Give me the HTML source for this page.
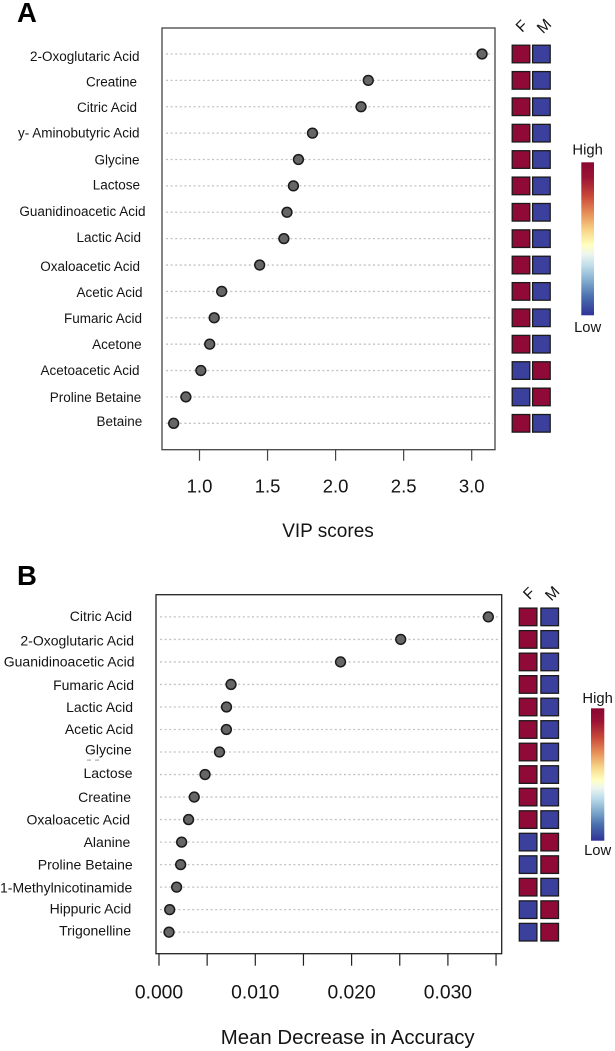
<!DOCTYPE html>
<html>
<head>
<meta charset="utf-8">
<title>VIP scores and Mean Decrease in Accuracy</title>
<style>
html,body{margin:0;padding:0;background:#fff;}
#fig{display:block;width:615px;height:1051px;}
text{font-family:"Liberation Sans",sans-serif;fill:#141414;}
text.panel-letter{fill:#000;}
</style>
</head>
<body>
<svg id="fig" xmlns="http://www.w3.org/2000/svg" width="615" height="1051" viewBox="0 0 615 1051">
<defs>
<linearGradient id="rdylbu" x1="0" y1="0" x2="0" y2="1">
<stop offset="0" stop-color="#8a0733"/>
<stop offset="0.1" stop-color="#9c1434"/>
<stop offset="0.22" stop-color="#c8483a"/>
<stop offset="0.34" stop-color="#e8935a"/>
<stop offset="0.45" stop-color="#f8d88a"/>
<stop offset="0.54" stop-color="#ffffc0"/>
<stop offset="0.6" stop-color="#eef6ee"/>
<stop offset="0.68" stop-color="#bcdcea"/>
<stop offset="0.78" stop-color="#7fa9cc"/>
<stop offset="0.88" stop-color="#4a6fae"/>
<stop offset="1" stop-color="#2f3296"/>
</linearGradient>
</defs>
<rect x="87" y="759.6" width="4" height="1" fill="#999"/>
<rect x="95" y="759.6" width="4" height="1" fill="#999"/>
</svg>
<script>
// Panel A data
const categoriesA = ["2-Oxoglutaric Acid","Creatine","Citric Acid","y- Aminobutyric Acid","Glycine","Lactose","Guanidinoacetic Acid","Lactic Acid","Oxaloacetic Acid","Acetic Acid","Fumaric Acid","Acetone","Acetoacetic Acid","Proline Betaine","Betaine"];
const vipScores = [3.076,2.24,2.187,1.83,1.727,1.69,1.643,1.62,1.442,1.163,1.108,1.075,1.01,0.9,0.81];
const femaleLevelA = [1,1,1,1,1,1,1,1,1,1,1,1,-1,-1,1];
const maleLevelA = [-1,-1,-1,-1,-1,-1,-1,-1,-1,-1,-1,-1,1,1,-1];
const ticksA = [1.0,1.5,2.0,2.5,3.0];
const tickLabelsA = ["1.0","1.5","2.0","2.5","3.0"];

// Panel B data
const categoriesB = ["Citric Acid","2-Oxoglutaric Acid","Guanidinoacetic Acid","Fumaric Acid","Lactic Acid","Acetic Acid","Glycine","Lactose","Creatine","Oxaloacetic Acid","Alanine","Proline Betaine","1-Methylnicotinamide","Hippuric Acid","Trigonelline"];
const meanDecrease = [0.0342,0.0251,0.01885,0.00748,0.00701,0.007,0.00628,0.00478,0.00366,0.00307,0.00235,0.00225,0.00183,0.00111,0.00104];
const femaleLevelB = [1,1,1,1,1,1,1,1,1,1,-1,-1,1,-1,-1];
const maleLevelB = [-1,-1,-1,-1,-1,-1,-1,-1,-1,-1,1,1,-1,1,1];
const ticksB = [0,0.005,0.01,0.015,0.02,0.025,0.03,0.035];
const tickLabelsB = ["0.000","","0.010","","0.020","","0.030",""];

const sexLabels = ["F","M"];

// Hand-placement offsets of the row labels, which wander in the source figure
const nudgeRightA = [-0.5,-3,-3,-0.5,-0.5,0,5.5,1,0,2.5,2,1.7,-0.5,1.3,2.3];
const nudgeBaseA = [7,6,5,4.6,4.8,3.8,3.7,3.3,6,5.8,5.2,4.8,4.4,5.3,2.7];
const nudgeRightB = [-1,1,1.5,1,0,0.3,-1.3,-0.5,-2,-3,-2.7,-0.3,-0.7,-1.7,-2];
const nudgeBaseB = [4,6,4.7,5.5,5,4.7,2.6,3.5,4.8,4.7,4.7,4.8,5.5,4,3.3];

const NS = "http://www.w3.org/2000/svg";
const svg = document.getElementById("fig");

function make(tag, attrs, parent, txt) {
  const el = document.createElementNS(NS, tag);
  for (const k in attrs) el.setAttribute(k, attrs[k]);
  if (txt !== undefined) el.textContent = txt;
  parent.appendChild(el);
  return el;
}

function levelColor(v) {
  return v > 0 ? "#8f0a36" : "#3a409c";
}

function drawPanel(p) {
  const g = make("g", {}, svg);
  
  

  const xScale = v => p.x0 + (v - p.v0) * p.pxPerUnit;
  const yScale = i => p.rowTop + i * p.rowStep;

  const letter = make("text", {class: "panel-letter", x: 17, y: p.letterY, "font-size": 27.5, "font-weight": "bold"}, g, p.letter);
  
  

  p.categories.forEach((name, i) => {
    const y = yScale(i);

    const line = make("line", {x1: p.left + 4, x2: p.right - 2, y1: y, y2: y, stroke: "#c2c2c2", "stroke-width": 1.3, "stroke-dasharray": "2 2.6"}, g);
    
    

    const label = make("text", {x: p.labelRight + p.nudgeRight[i], y: y + p.nudgeBase[i], "font-size": p.labelSize, "text-anchor": "end"}, g, name);
    
    

    const dot = make("circle", {cx: xScale(p.values[i]), cy: y, r: 4.9, fill: "#666666", stroke: "#1a1a1a", "stroke-width": 1.5}, g);
    
    

    const cellF = make("rect", {x: p.cellX[0], y: y - 8.8, width: 17.6, height: 17.6, fill: levelColor(p.female[i]), stroke: "#1a1a1a", "stroke-width": 1.3}, g);
    
    

    const cellM = make("rect", {x: p.cellX[1], y: y - 8.8, width: 17.6, height: 17.6, fill: levelColor(p.male[i]), stroke: "#1a1a1a", "stroke-width": 1.3}, g);
    
    
  });

  const frame = make("rect", {x: p.left, y: p.top, width: p.right - p.left, height: p.bottom - p.top, fill: "none", stroke: p.frameColor, "stroke-width": 1.3}, g);
  
  

  p.ticks.forEach((t, i) => {
    const x = xScale(t);
    const tick = make("line", {x1: x, x2: x, y1: p.bottom, y2: p.bottom + p.tickLen, stroke: p.frameColor, "stroke-width": 1.2}, g);
    
    
    if (p.tickLabels[i]) {
      const tl = make("text", {x: x, y: p.tickBase, "font-size": p.tickSize, "text-anchor": "middle"}, g, p.tickLabels[i]);
      
      
    }
  });

  const title = make("text", {x: p.titleX, y: p.titleBase, "font-size": p.titleSize, "text-anchor": "middle"}, g, p.title);
  
  

  sexLabels.forEach((s, i) => {
    const cx = p.sexX[i], cy = p.sexY;
    const t = make("text", {x: cx, y: cy, "font-size": 15.5, "text-anchor": "middle", transform: "rotate(-45 " + cx + " " + cy + ")"}, g, s);
    
    
  });

  const bar = make("rect", {x: p.barX, y: p.barTop, width: p.barW, height: p.barH, fill: "url(#rdylbu)"}, g);
  
  

  const high = make("text", {x: p.barX + p.barW / 2, y: p.highBase, "font-size": 14.8, "text-anchor": "middle"}, g, "High");
  
  

  const low = make("text", {x: p.barX + p.barW / 2, y: p.lowBase, "font-size": 14.8, "text-anchor": "middle"}, g, "Low");
  
  
}

drawPanel({
  id: "vip", letter: "A", letterY: 22, frameColor: "#444444",
  categories: categoriesA, values: vipScores, female: femaleLevelA, male: maleLevelA,
  ticks: ticksA, tickLabels: tickLabelsA,
  left: 162, right: 495, top: 28, bottom: 449.7,
  x0: 199.5, v0: 1, pxPerUnit: 136.1,
  rowTop: 54, rowStep: 26.38,
  labelRight: 140, labelSize: 13.5, nudgeRight: nudgeRightA, nudgeBase: nudgeBaseA,
  cellX: [512.2, 532.6],
  tickLen: 11, tickBase: 492.7, tickSize: 18.5,
  title: "VIP scores", titleX: 328, titleBase: 537, titleSize: 19,
  sexX: [525.4, 547.7], sexY: 29.7,
  barX: 581.3, barW: 12.7, barTop: 162.3, barH: 153,
  highBase: 154.5, lowBase: 332
});

drawPanel({
  id: "accuracy", letter: "B", letterY: 585, frameColor: "#222222",
  categories: categoriesB, values: meanDecrease, female: femaleLevelB, male: maleLevelB,
  ticks: ticksB, tickLabels: tickLabelsB,
  left: 156, right: 501.7, top: 594.7, bottom: 953.7,
  x0: 159, v0: 0, pxPerUnit: 9630,
  rowTop: 616.9, rowStep: 22.52,
  labelRight: 133, labelSize: 14, nudgeRight: nudgeRightB, nudgeBase: nudgeBaseB,
  cellX: [519.3, 540.9],
  tickLen: 12, tickBase: 998.3, tickSize: 19.3,
  title: "Mean Decrease in Accuracy", titleX: 347.7, titleBase: 1044, titleSize: 20.4,
  sexX: [532.7, 556], sexY: 597,
  barX: 591, barW: 13.3, barTop: 708.3, barH: 132.4,
  highBase: 703, lowBase: 855
});
</script>
</body>
</html>
